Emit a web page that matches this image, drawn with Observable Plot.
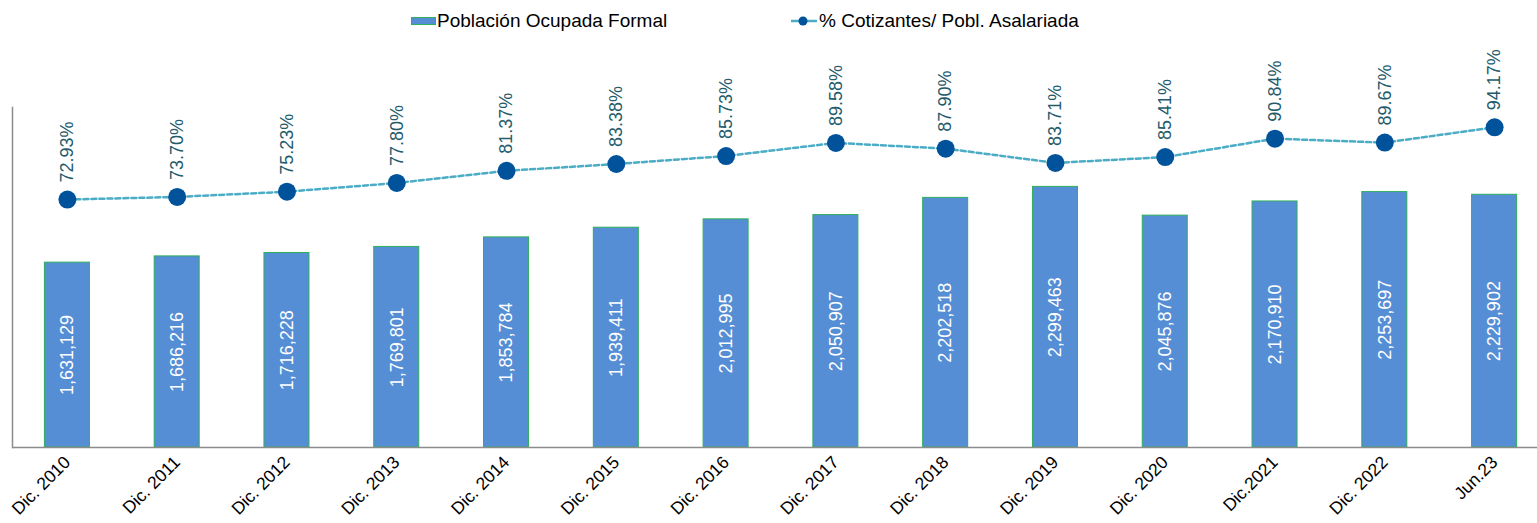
<!DOCTYPE html>
<html>
<head>
<meta charset="utf-8">
<script src="https://cdn.jsdelivr.net/npm/d3@7"></script>
<script src="https://cdn.jsdelivr.net/npm/@observablehq/plot@0.6"></script>
<style>
  html, body { margin: 0; padding: 0; background: #fff; }
  body { font-family: "Liberation Sans", Arial, sans-serif; }
  #wrap { position: relative; width: 1537px; height: 523px; overflow: hidden; }
  #legend { position: absolute; left: 0; top: 0; width: 1537px; height: 40px; font-size: 19px; color: #000; }
  .lg { position: absolute; top: 9px; line-height: 23px; white-space: nowrap; }
  #chart { position: absolute; left: 0; top: 0; }
</style>
</head>
<body>
<div id="wrap">
  <div id="chart"></div>
  <div id="legend">
    <div style="position:absolute;left:411px;top:17px;width:23px;height:6px;background:#558ED5;border:1px solid #2EAF5A;"></div>
    <div class="lg" style="left:437px;">Población Ocupada Formal</div>
    <svg style="position:absolute;left:790px;top:13px;" width="28" height="16">
      <line x1="1" y1="8" x2="27" y2="8" stroke="#4BACC6" stroke-width="2.5"/>
      <circle cx="13" cy="8" r="4.5" fill="#00529B"/>
    </svg>
    <div class="lg" style="left:819px;">% Cotizantes/ Pobl. Asalariada</div>
  </div>
</div>
<script>
const categories = ["Dic. 2010","Dic. 2011","Dic. 2012","Dic. 2013","Dic. 2014","Dic. 2015","Dic. 2016","Dic. 2017","Dic. 2018","Dic. 2019","Dic. 2020","Dic.2021","Dic. 2022","Jun.23"];
const poblacion = [1631129,1686216,1716228,1769801,1853784,1939411,2012995,2050907,2202518,2299463,2045876,2170910,2253697,2229902];
const cotizantes = [72.93,73.70,75.23,77.80,81.37,83.38,85.73,89.58,87.90,83.71,85.41,90.84,89.67,94.17];

const data = categories.map((c, i) => ({cat: c, value: poblacion[i], pct: cotizantes[i]}));
const pctScale = 30000; // 100% on secondary axis == 3,000,000 on primary
const fmt = d3.format(",");

const chart = Plot.plot({
  width: 1537,
  height: 523,
  marginLeft: 12,
  marginRight: 0,
  marginTop: 107,
  marginBottom: 76,
  style: {fontFamily: "'Liberation Sans', Arial, sans-serif", background: "transparent"},
  x: {type: "band", domain: categories, range: [12, 1549], paddingInner: 0.59, paddingOuter: 0.295, round: false},
  y: {domain: [0, 3000000], axis: null},
  marks: [
    Plot.barY(data, {x: "cat", y: "value", fill: "#558ED5", stroke: "#2EAF5A", strokeWidth: 1}),
    Plot.text(data, {x: "cat", y: d => d.value / 2, text: d => fmt(d.value), rotate: -90, fill: "white", fontSize: 18}),
    Plot.line(data, {x: "cat", y: d => d.pct * pctScale, stroke: "#4BACC6", strokeWidth: 2.5, strokeDasharray: "5,3"}),
    Plot.dot(data, {x: "cat", y: d => d.pct * pctScale, r: 9, fill: "#00529B", stroke: "none"}),
    Plot.text(data, {x: "cat", y: d => d.pct * pctScale, text: d => d.pct.toFixed(2) + "%", rotate: -90, textAnchor: "start", dy: -17, fontSize: 18, fill: "#235B6B"}),
    Plot.ruleY([0], {stroke: "#8C8C8C", strokeWidth: 1.5}),
    Plot.frame({anchor: "left", stroke: "#8C8C8C", strokeWidth: 1.5}),
    Plot.axisX({tickRotate: -45, tickSize: 0, tickPadding: 12, fontSize: 17.5, fill: "#000", label: null})
  ]
});
document.getElementById("chart").appendChild(chart);
</script>
</body>
</html>
